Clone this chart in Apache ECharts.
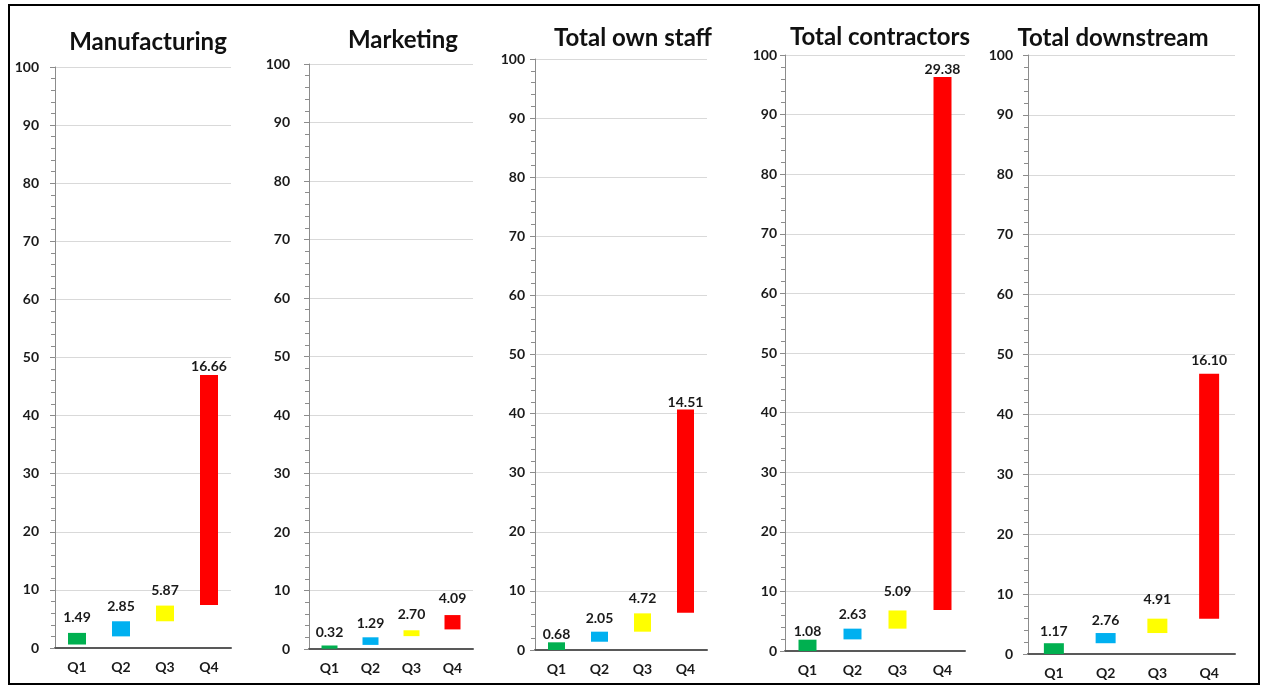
<!DOCTYPE html>
<html>
<head>
<meta charset="utf-8">
<script src="https://cdn.jsdelivr.net/npm/echarts@6/dist/echarts.min.js"></script>
<style>
html,body{margin:0;padding:0;background:#fff;}
#chart{width:1267px;height:686px;}
</style>
</head>
<body>
<div id="chart"></div>
<script>
// ---- data ----
const categories = ['Q1', 'Q2', 'Q3', 'Q4'];
const panelTitles = ['Manufacturing', 'Marketing', 'Total own staff', 'Total contractors', 'Total downstream'];
const barColors = ['#00b050', '#00b0f0', '#ffff00', '#ff0000'];
const yTicks = [0, 10, 20, 30, 40, 50, 60, 70, 80, 90, 100];

const manufacturingLow   = [0.6, 2.0, 4.6, 7.4];
const manufacturingHigh  = [2.6, 4.6, 7.3, 47.0];
const manufacturingLabel = ['1.49', '2.85', '5.87', '16.66'];

const marketingLow   = [0.05, 0.7, 2.2, 3.35];
const marketingHigh  = [0.6, 2.0, 3.2, 5.8];
const marketingLabel = ['0.32', '1.29', '2.70', '4.09'];

const ownStaffLow   = [0.0, 1.4, 3.1, 6.3];
const ownStaffHigh  = [1.3, 3.1, 6.2, 40.7];
const ownStaffLabel = ['0.68', '2.05', '4.72', '14.51'];

const contractorsLow   = [0.0, 1.95, 3.75, 6.9];
const contractorsHigh  = [1.9, 3.75, 6.8, 96.3];
const contractorsLabel = ['1.08', '2.63', '5.09', '29.38'];

const downstreamLow   = [0.0, 1.8, 3.5, 5.9];
const downstreamHigh  = [1.8, 3.5, 5.9, 46.8];
const downstreamLabel = ['1.17', '2.76', '4.91', '16.10'];

const panelLows   = [manufacturingLow, marketingLow, ownStaffLow, contractorsLow, downstreamLow];
const panelHighs  = [manufacturingHigh, marketingHigh, ownStaffHigh, contractorsHigh, downstreamHigh];
const panelLabels = [manufacturingLabel, marketingLabel, ownStaffLabel, contractorsLabel, downstreamLabel];

// ---- layout / style ----
const gridBoxes = [
  {left: 55,   top: 67, width: 176, height: 581},
  {left: 309,  top: 64, width: 164, height: 585},
  {left: 535,  top: 59, width: 172, height: 591},
  {left: 785,  top: 55, width: 180, height: 596},
  {left: 1028, top: 55, width: 207, height: 599}
];
const titlePos = [[143, 37], [398, 35], [628, 33], [875, 32], [1108, 33]];
const barWidths = [18, 16, 17, 18, 20];
const yLabelMargins = [16, 19, 10, 8, 15];
const labelGaps = [[8, 8, 8, 1], [6, 7, 9, 10], [1, 6, 8, 0], [1, 7, 12, 1], [5, 6, 12, 6]];

const FONT = 'Lato, "Open Sans", sans-serif';

const grids = [], xAxes = [], yAxes = [], series = [], titles = [];
panelTitles.forEach((t, i) => {
  grids.push(Object.assign({containLabel: false}, gridBoxes[i]));
  titles.push({
    text: t,
    left: titlePos[i][0], top: titlePos[i][1],
    textAlign: 'center', textVerticalAlign: 'middle',
    textStyle: {fontFamily: FONT, fontWeight: 'bold', fontSize: 24, color: '#111'}
  });
  xAxes.push({
    type: 'category', gridIndex: i, data: categories,
    axisLine: {lineStyle: {color: '#595959', width: 2}},
    axisTick: {show: false},
    axisLabel: {fontFamily: FONT, fontWeight: 'bold', fontSize: 14, color: '#1a1a1a', margin: 12}
  });
  yAxes.push({
    type: 'value', gridIndex: i, min: 0, max: 100, interval: 10,
    axisLine: {show: true, lineStyle: {color: '#8c8c8c', width: 1}},
    axisTick: {show: true, length: 5, lineStyle: {color: '#8c8c8c'}},
    minorTick: {show: true, splitNumber: 5, length: 4, lineStyle: {color: '#8c8c8c'}},
    splitLine: {show: true, lineStyle: {color: '#d9d9d9', width: 1}},
    axisLabel: {fontFamily: FONT, fontWeight: 'bold', fontSize: 14, color: '#1a1a1a', margin: yLabelMargins[i]}
  });
  const lows = panelLows[i], highs = panelHighs[i], labs = panelLabels[i];
  series.push({
    type: 'bar', xAxisIndex: i, yAxisIndex: i, stack: 's' + i,
    barWidth: barWidths[i], silent: true,
    itemStyle: {color: 'transparent'},
    data: lows
  });
  series.push({
    type: 'bar', xAxisIndex: i, yAxisIndex: i, stack: 's' + i,
    barWidth: barWidths[i],
    data: highs.map((h, k) => ({
      value: +(h - lows[k]).toFixed(3),
      itemStyle: {color: barColors[k]},
      label: {distance: labelGaps[i][k]}
    })),
    label: {
      show: true, position: 'top',
      fontFamily: FONT, fontWeight: 'bold', fontSize: 14, color: '#1a1a1a',
      formatter: p => labs[p.dataIndex]
    }
  });
});

const chart = echarts.init(document.getElementById('chart'), null, {renderer: 'canvas'});
chart.setOption({
  animation: false,
  backgroundColor: '#ffffff',
  title: titles,
  grid: grids,
  xAxis: xAxes,
  yAxis: yAxes,
  series: series,
  graphic: [{
    type: 'rect', silent: true,
    shape: {x: 9, y: 5, width: 1250, height: 679},
    style: {fill: 'none', stroke: '#000', lineWidth: 2}
  }]
});
</script>
</body>
</html>
